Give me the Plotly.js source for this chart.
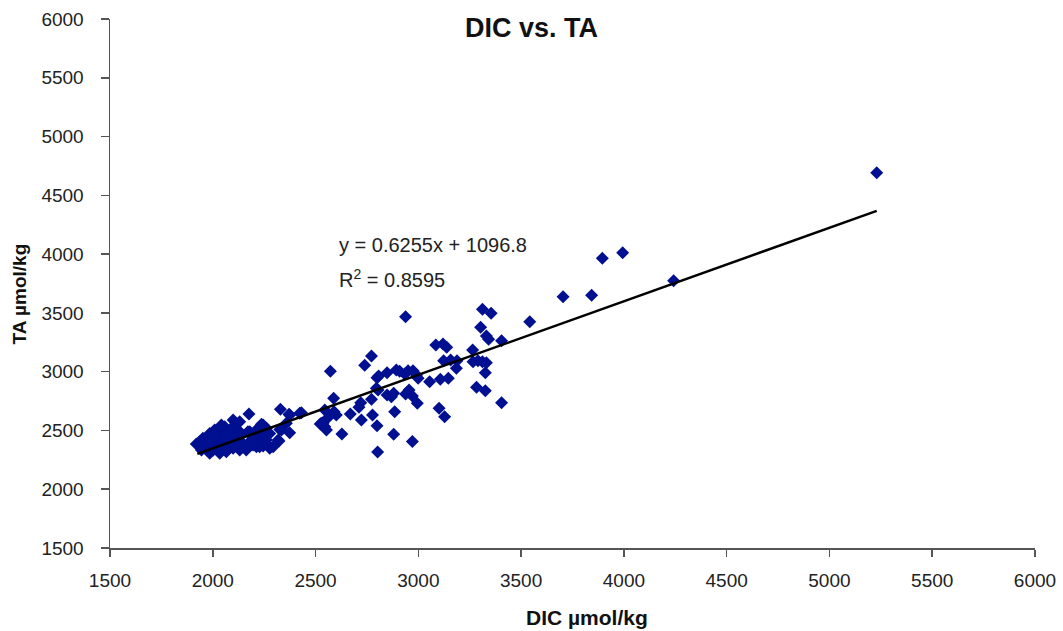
<!DOCTYPE html>
<html>
<head>
<meta charset="utf-8">
<script src="https://cdn.plot.ly/plotly-3.0.1.min.js"></script>
<style>html,body{margin:0;padding:0;background:#fff;}#chart{width:1063px;height:631px;}</style>
</head>
<body>
<div id="chart"></div>
<script>
const dic = [
2938,3312,3354,3542,3303,3331,3342,3405,3085,3120,3138,3264,2772,2739,2572,2799,2807,2848,2893,2909,
2950,2974,2934,2991,2999,3123,3157,3188,3185,3266,3290,3312,3331,3326,3055,3107,3146,3283,3326,3405,
3101,3128,2796,2804,2848,2869,2880,2938,2955,2971,2995,2885,2772,2720,2711,2588,2601,2590,2669,2777,
2723,2799,2561,2536,2523,2553,2628,2880,2971,2802,2545,
3704,3843,3895,3994,4242,5230,
2176,2329,2371,2431,2111,2237,2050,2326,2358,2374,2322,2180,2196,2228,2261,2147,2163,2212,2245,2277,1920,
2099,2131,2058,2091,2123,2050,2009,1985,1952,1945,1985,2034,2082,2131,2171,2212,2253,2261,2180,2212,
2163,2131,2099,2066,2034,1985,2002,1969,2018,2066,2042,2115,2147,2082,2050,1936,1961,2026,
2374,2423,2245,2334,2277,2245,2318,2196,2228,2269,2294,2528,2545,
1940,1990,2010,2070,2100,2000,2040
];
const ta = [
3467,3530,3496,3425,3377,3303,3275,3263,3227,3235,3207,3184,3133,3054,3003,2949,2963,2991,3014,3003,
3008,3008,2980,2972,2944,3093,3099,3093,3029,3085,3093,3085,3076,2991,2915,2935,2944,2867,2838,2736,
2688,2617,2859,2844,2801,2787,2816,2810,2844,2793,2731,2660,2765,2736,2697,2773,2631,2660,2640,2631,
2589,2540,2610,2561,2555,2504,2470,2467,2407,2317,2674,
3638,3650,3964,4012,3774,4693,
2640,2680,2637,2651,2566,2552,2518,2509,2561,2481,2410,2489,2433,2461,2419,2390,2334,2362,2368,2348,2385,
2589,2574,2532,2518,2504,2489,2504,2475,2433,2334,2348,2404,2433,2461,2489,2504,2461,2518,2404,2376,
2348,2334,2348,2319,2305,2305,2376,2404,2447,2461,2546,2404,2376,2376,2362,2404,2362,2348,
2631,2646,2546,2504,2475,2419,2419,2376,2362,2376,2362,2561,2532,
2370,2420,2450,2430,2460,2330,2330
];
const trendX = [1925, 5230];
const trendY = [2301, 4368];
const xTicks = [1500,2000,2500,3000,3500,4000,4500,5000,5500,6000];
const yTicks = [1500,2000,2500,3000,3500,4000,4500,5000,5500,6000];
const eqLine1 = 'y = 0.6255x + 1096.8';
const eqLine2 = 'R<sup>2</sup> = 0.8595';
const xTitle = '<b>DIC µmol/kg</b>';
const yTitle = '<b>TA µmol/kg</b>';

const font = 'Liberation Sans, Arial, sans-serif';
const data = [
  {x: dic, y: ta, type: 'scatter', mode: 'markers',
   marker: {symbol: 'diamond', size: 10, color: '#001090'}, hoverinfo: 'x+y'},
  {x: trendX, y: trendY, type: 'scatter', mode: 'lines',
   line: {color: '#000000', width: 2.5}, hoverinfo: 'skip'}
];
const layout = {
  width: 1063, height: 631,
  margin: {l: 110, r: 28, t: 19, b: 83},
  paper_bgcolor: '#ffffff', plot_bgcolor: '#ffffff',
  showlegend: false,
  font: {family: font, color: '#222222', size: 19},
  title: {text: '<b>DIC vs. TA</b>', font: {family: font, size: 27, color: '#111111'},
          x: 0.5, xref: 'container', xanchor: 'center', y: 0.956, yref: 'container', yanchor: 'middle'},
  xaxis: {range: [1500, 6000], tickvals: xTicks, ticktext: xTicks.map(String),
          showgrid: false, zeroline: false, showline: true, linecolor: '#555555', linewidth: 1.5,
          ticks: 'outside', ticklen: 7, tickcolor: '#555555', tickwidth: 1.5, ticklabelstandoff: 8,
          tickfont: {family: font, size: 19, color: '#222222'}},
  yaxis: {range: [1500, 6000], tickvals: yTicks, ticktext: yTicks.map(String),
          showgrid: false, zeroline: false, showline: true, linecolor: '#555555', linewidth: 1.5,
          ticks: 'outside', ticklen: 8, tickcolor: '#555555', tickwidth: 1.5, ticklabelstandoff: 13,
          tickfont: {family: font, size: 19, color: '#222222'}},
  annotations: [
    {text: eqLine1, x: 2603, y: 4077, xref: 'x', yref: 'y', xanchor: 'left', yanchor: 'middle',
     showarrow: false, font: {family: font, size: 20, color: '#222222'}},
    {text: eqLine2, x: 2603, y: 3790, xref: 'x', yref: 'y', xanchor: 'left', yanchor: 'middle',
     showarrow: false, font: {family: font, size: 20, color: '#222222'}},
    {text: xTitle, x: 0.516, y: -0.132, xref: 'paper', yref: 'paper', xanchor: 'center', yanchor: 'middle',
     showarrow: false, font: {family: font, size: 21, color: '#111111'}},
    {text: yTitle, x: -0.098, y: 0.48, xref: 'paper', yref: 'paper', xanchor: 'center', yanchor: 'middle',
     textangle: -90, showarrow: false, font: {family: font, size: 19, color: '#111111'}}
  ]
};
Plotly.newPlot('chart', data, layout, {displayModeBar: false, staticPlot: true});
</script>
</body>
</html>
